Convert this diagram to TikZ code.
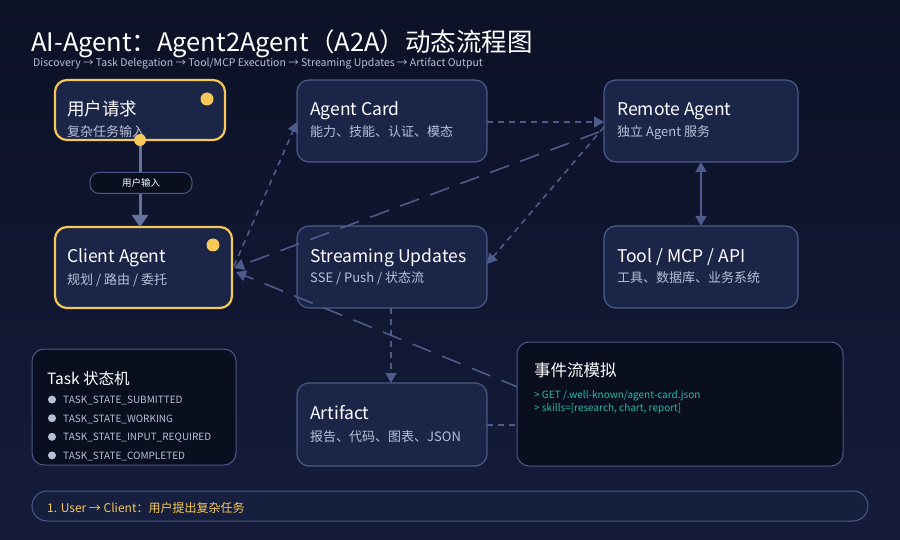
\documentclass[tikz,border=0pt]{standalone}
\usepackage{fontspec}
\setmainfont{Noto Sans CJK SC}
\usetikzlibrary{arrows.meta}
\definecolor{bgA}{HTML}{0C1126}
\definecolor{bgB}{HTML}{151C3A}
\definecolor{boxf}{HTML}{1B2548}
\definecolor{boxd}{HTML}{4A5A8A}
\definecolor{yel}{HTML}{F5C85A}
\definecolor{sub}{HTML}{B8C0D8}
\definecolor{darkf}{HTML}{0A0F20}
\definecolor{teal}{HTML}{2FB8A4}
\definecolor{conn}{HTML}{4E5C8C}
\tikzset{
 card/.style={draw=boxd,fill=boxf,line width=1.2pt,rounded corners=12pt},
 hl/.style={draw=yel,line width=2.2pt},
 ttl/.style={anchor=base west,text=white,font=\fontsize{17.5}{20}\selectfont,inner sep=0},
 sbt/.style={anchor=base west,text=sub,font=\fontsize{13}{15}\selectfont,inner sep=0},
 conn/.style={draw=conn,line width=1.6pt,-{Triangle[length=10pt,width=11pt]}},
 dsh/.style={conn,dash pattern=on 6pt off 5pt},
 ldsh/.style={conn,dash pattern=on 20pt off 12pt},
}
\begin{document}
\begin{tikzpicture}[x=1pt,y=-1pt]
\shade[top color=bgA,bottom color=bgB] (0,0) rectangle (900,540);
\useasboundingbox (0,0) rectangle (900,540);
\node[anchor=base west,text=white,font=\fontsize{25.5}{30}\selectfont,inner sep=0] (title) at (31,52) {AI-Agent：Agent2Agent（A2A）动态流程图};
\node[anchor=base west,text=sub,font=\fontsize{10.5}{12}\selectfont,inner sep=0] (subt) at (33,67) {Discovery → Task Delegation → Tool/MCP Execution → Streaming Updates → Artifact Output};
% boxes
\path[card,hl] (55,80) rectangle (225,140);
\coordinate (userB) at (140,140);
\node[ttl] at (67,116) {用户请求};
\node[sbt] at (67,137) {复杂任务输入};
\fill[yel] (207,99) circle (6.5);
\path[card,hl] (55,227) rectangle (232,308);
\coordinate (clientT) at (140,227);
\coordinate (clientE) at (234,268);
\node[ttl] at (67,263) {Client Agent};
\node[sbt] at (67,284) {规划 / 路由 / 委托};
\fill[yel] (213,245) circle (6.5);
\path[card] (297,80) rectangle (487,162);
\coordinate (cardW) at (297,122);
\coordinate (cardE) at (487,122);
\node[ttl] at (310,116) {Agent Card};
\node[sbt] at (310,137) {能力、技能、认证、模态};
\path[card] (604,80) rectangle (798,162);
\coordinate (remW) at (604,122);
\coordinate (remS) at (701,162);
\node[ttl] at (617,116) {Remote Agent};
\node[sbt] at (617,137) {独立 Agent 服务};
\path[card] (297,226) rectangle (487,308);
\coordinate (strE) at (487,264);
\coordinate (strS) at (391,308);
\node[ttl] at (310,262) {Streaming Updates};
\node[sbt] at (310,283) {SSE / Push / 状态流};
\path[card] (604,226) rectangle (798,308);
\coordinate (toolN) at (701,226);
\node[ttl] at (617,262) {Tool / MCP / API};
\node[sbt] at (617,283) {工具、数据库、业务系统};
% connectors
\draw[ldsh] (remW) ++(-5,10) -- (clientE);
\draw[ldsh] (520,388) -- (236,272);
\draw[dsh] (clientE) ++(0,-2) -- (cardW);
\draw[dsh] (cardE) -- (remW);
\draw[dsh] (remW) ++(0,5) -- (strE);
\draw[conn,{Triangle[length=10pt,width=11pt]}-{Triangle[length=10pt,width=11pt]}] (remS) -- (toolN);
\draw[dsh] (strS) -- (391,383);
\draw[draw=conn,line width=1.6pt,dash pattern=on 6pt off 5pt] (487,425) -- (517,425);
\draw[draw=boxd!85,line width=3pt] (userB) -- (140,178);
\draw[conn,draw=boxd!85,line width=3pt,-{Triangle[length=12pt,width=16pt]}] (140,190) -- (clientT);
\node[draw=boxd,fill=darkf,line width=1pt,rounded corners=9pt,minimum width=102pt,minimum height=21pt,inner sep=0,text=white,font=\fontsize{9.5}{11}\selectfont] (lbl) at (141,183) {用户输入};
\fill[yel] (userB) circle (6);
% task box
\path[card,fill=darkf,line width=1pt] (32,349) rectangle (236,465);
\node[anchor=base west,text=white,font=\fontsize{15.5}{18}\selectfont,inner sep=0] at (47,384) {Task 状态机};
\foreach \t [count=\i] in {TASK\_STATE\_SUBMITTED,TASK\_STATE\_WORKING,TASK\_STATE\_INPUT\_REQUIRED,TASK\_STATE\_COMPLETED}{
  \fill[sub] (52,{381+18.6*\i}) circle (4);
  \node[anchor=base west,text=sub,font=\fontsize{10}{11}\selectfont,inner sep=0] at (63,{385+18.6*\i}) {\t};
}
% artifact
\path[card] (297,383) rectangle (487,466);
\coordinate (artN) at (391,383);
\node[ttl] at (310,419) {Artifact};
\node[sbt] at (310,441) {报告、代码、图表、JSON};
% event box
\path[card,fill=darkf,line width=1pt] (517,342) rectangle (843,466);
\node[anchor=base west,text=white,font=\fontsize{16.5}{19}\selectfont,inner sep=0] at (534,376) {事件流模拟};
\node[anchor=base west,text=teal,font=\fontsize{10}{11}\selectfont,inner sep=0] at (534,398) {> GET /.well-known/agent-card.json};
\node[anchor=base west,text=teal,font=\fontsize{10}{11}\selectfont,inner sep=0] at (534,411) {> skills=[research, chart, report]};
% bottom bar
\path[draw=boxd,fill=boxf!70!bgA,line width=1pt,rounded corners=15pt] (32,491) rectangle (868,521);
\node[anchor=base west,text=yel,font=\fontsize{12}{14}\selectfont,inner sep=0] at (47,512) {1. User → Client：用户提出复杂任务};
\end{tikzpicture}
\end{document}
